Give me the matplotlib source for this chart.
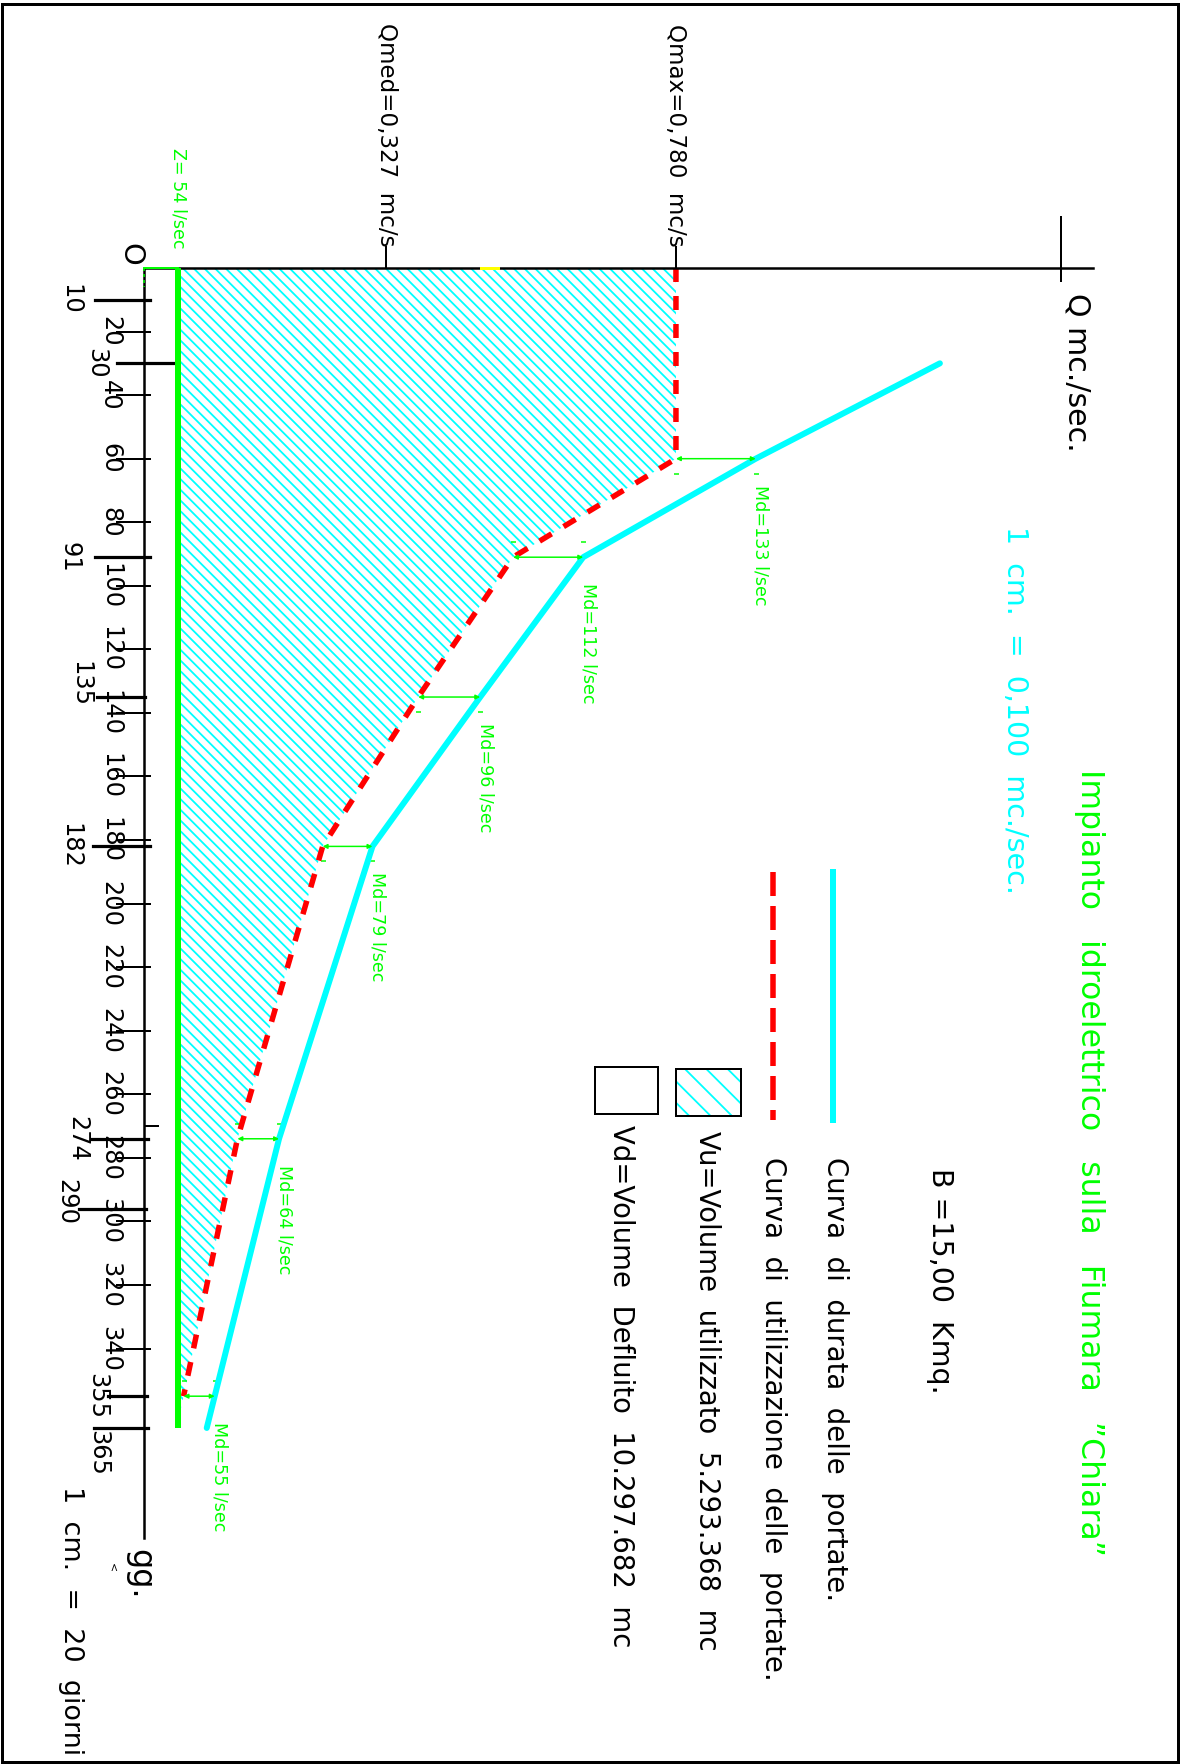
import matplotlib.pyplot as plt
from matplotlib.patches import Polygon, Rectangle
import numpy as np

# ---- data (Q in mc/s, time in giorni) ----
dur_days = [30, 60, 91, 135, 182, 274, 365]
dur_q = [1.167, 0.897, 0.644, 0.493, 0.335, 0.198, 0.092]

util_days = [0, 60, 91, 135, 182, 274, 355]
util_q = [0.78, 0.78, 0.541, 0.402, 0.262, 0.137, 0.058]

md_days = [60, 91, 135, 182, 274, 355]
md_vals = [133, 112, 96, 79, 64, 55]

z_q = 0.050
z_label = "Z= 54 l/sec"

q_ticks = [0.355, 0.78]
q_ticklabels = ["Qmed=0,327  mc/s", "Qmax=0,780  mc/s"]

day_ticks = [20, 40, 60, 80, 100, 120, 140, 160, 180, 200, 220, 240, 260, 280, 300, 320, 340]
key_days = [10, 30, 91, 135, 182, 274, 290, 355, 365]
key_tick_days = [10, 30, 91, 135, 182, 274, 296, 355, 365]

title = "Impianto   idroelettrico   sulla   Fiumara   ”Chiara”"
legend_labels = ["Curva  di  durata  delle  portate.",
                 "Curva  di  utilizzazione  delle  portate.",
                 "Vu=Volume  utilizzato  5.293.368  mc",
                 "Vd=Volume  Defluito  10.297.682  mc"]

# ---- layout (drawing is rotated: days run down, Q runs right) ----
DPI = 64
W, H = 1185, 1764
X0, Y0 = 144, 268          # origin in pixels
KQ, KD = 682.0, 3.178      # px per mc/s, px per day


def qx(px):
    return (px - X0) / KQ


def dy(py):
    return (py - Y0) / KD


def pt(px):
    return px * 72 / DPI


CYAN, GREEN, RED = "#00FFFF", "#00FF00", "#FF0000"

plt.rcParams["font.family"] = ["DejaVu Sans"]
plt.rcParams["lines.scale_dashes"] = False
plt.rcParams["hatch.linewidth"] = pt(1.8)
plt.rcParams["hatch.color"] = CYAN

fig = plt.figure(figsize=(W / DPI, H / DPI), dpi=DPI)
ax = fig.add_axes([0, 0, 1, 1])
ax.set_xlim(qx(0), qx(W))
ax.set_ylim(dy(H), dy(0))
ax.axis("off")

fig.add_artist(Rectangle((2 / W, 1 - 1762 / H), 1176 / W, 1758 / H, transform=fig.transFigure,
                         fill=False, ec="k", lw=pt(3)))

RED_DASH = (0, (pt(14), pt(14)))
RED_DOT = (pt(0), (pt(2), pt(26)))
LEG_DASH = (0, (pt(24), pt(10)))
LEG_DOT = (pt(30), (pt(2), pt(32)))


def rot_text(x, y, s, size, color="k", ha="center", va="top"):
    ax.text(x, y, s, rotation=-90, ha=ha, va=va, color=color, fontsize=pt(size))


# hatched used volume
poly = [(z_q, 0)] + list(zip(util_q, util_days)) + [(z_q, 363)]
ax.add_patch(Polygon(poly, closed=True, fc="none", ec=CYAN, lw=0, hatch="\\\\", zorder=2))

# axes
ax.plot([0, 0], [0, dy(1538)], color="k", lw=pt(2.5), zorder=4)
ax.plot([0, qx(1093)], [0, 0], color="k", lw=pt(2.5), zorder=4)
ax.plot([qx(1061), qx(1061)], [dy(217), dy(281)], color="k", lw=pt(2))
ax.plot([qx(481), qx(498)], [0, 0], color="#FFFF00", lw=pt(3), zorder=5)
rot_text(qx(130), dy(254), "O", 29, va="center")
rot_text(qx(1077), dy(293), "Q mc./sec.", 30)
rot_text(qx(140), dy(1549), "gg.", 32)
rot_text(qx(112), dy(1568), "<", 11, va="center")
rot_text(qx(71), dy(1486), "1  cm.  =  20  giorni", 27)

# Q marks
for q, lab in zip(q_ticks, q_ticklabels):
    ax.plot([q, q], [dy(247), 0], color="k", lw=pt(2))
    rot_text(q, dy(247), lab, 23, va="bottom")

# day ticks
for d in day_ticks:
    ax.plot([qx(117), qx(150)], [d, d], color="k", lw=pt(2))
    rot_text(qx(110), d, str(d), 24, va="center")

key_x = [(95, 150), (117, 174), (95, 150), (97, 145), (93, 150), (92, 148), (79, 146), (108, 147), (94, 148)]
key_lab_x = [70, 96, 70, 80, 70, 77, 66, 97, 98]
key_lab_shift = [0, 0, 0, -4, 0, 0, 4, 0, 8]
for d, td, (a, b), lx, sh in zip(key_days, key_tick_days, key_x, key_lab_x, key_lab_shift):
    ax.plot([qx(a), qx(b)], [td, td], color="k", lw=pt(3.2))
    rot_text(qx(lx), d + sh, str(d), 24, va="center")
ax.plot([qx(145), qx(158)], [270, 270], color="k", lw=pt(2))

# Z line
ax.plot([z_q, z_q], [0, 365], color=GREEN, lw=pt(6), solid_capstyle="butt", zorder=5)
ax.plot([0, z_q], [0, 0], color=GREEN, lw=pt(2), zorder=6)
ax.plot([0, 0], [0, 6], color=GREEN, lw=pt(1.5), ls=(0, (pt(3), pt(3))), zorder=6)
rot_text(z_q, dy(249), z_label, 17.5, color=GREEN, va="bottom")

# curves
ax.plot(dur_q, dur_days, color=CYAN, lw=pt(6), solid_capstyle="round", zorder=4)
ax.plot(util_q, util_days, color=RED, lw=pt(5.5), ls=RED_DASH, zorder=3)
ax.plot(util_q, util_days, color=RED, lw=pt(1), ls=RED_DOT, alpha=0.5, zorder=3)

# deflusso minimo dimensions
mark_side = [1, -1, 1, 1, -1, -1]
for d, v, s in zip(md_days, md_vals, mark_side):
    left = np.interp(d, util_days, util_q)
    right = np.interp(d, dur_days, dur_q)
    ax.annotate("", xy=(right, d), xytext=(left, d),
                arrowprops=dict(arrowstyle="<|-|>", color=GREEN, lw=pt(1.5),
                                mutation_scale=pt(9), shrinkA=0, shrinkB=0), zorder=6)
    ax.plot([left, right], [d + s * 15 / KD] * 2, ls="none", marker="_", ms=pt(5),
            mew=pt(1.5), color=GREEN)
    rot_text(right + 5 / KQ, d + 26 / KD, f"Md={v} l/sec", 17.5, color=GREEN)

# texts on the right
rot_text(qx(1089), dy(769), title, 31.5, color=GREEN)
rot_text(qx(1015), dy(526), "1  cm.  =  0,100  mc./sec.", 28.5, color=CYAN)
rot_text(qx(940), dy(1168), "B =15,00  Kmq.", 28.5)

# legend
ax.plot([qx(833), qx(833)], [dy(872), dy(1120)], color=CYAN, lw=pt(6))
ax.plot([qx(773), qx(773)], [dy(872), dy(1120)], color=RED, lw=pt(5.5), ls=LEG_DASH)
ax.plot([qx(773), qx(773)], [dy(872), dy(1120)], color=RED, lw=pt(1), ls=LEG_DOT, alpha=0.5)
ax.add_patch(Rectangle((qx(676), dy(1069)), qx(741) - qx(676), dy(1116) - dy(1069),
                       fc="none", ec=CYAN, lw=0, hatch="\\"))
ax.add_patch(Rectangle((qx(676), dy(1069)), qx(741) - qx(676), dy(1116) - dy(1069),
                       fill=False, ec="k", lw=pt(2)))
ax.add_patch(Rectangle((qx(595), dy(1067)), qx(658) - qx(595), dy(1114) - dy(1067),
                       fill=False, ec="k", lw=pt(2)))
leg_pos = [(835, 1157), (773, 1157), (707, 1131), (621, 1125)]
for (x, y), lab in zip(leg_pos, legend_labels):
    rot_text(qx(x), dy(y), lab, 27.5)

fig.savefig("out.png", dpi=DPI)
